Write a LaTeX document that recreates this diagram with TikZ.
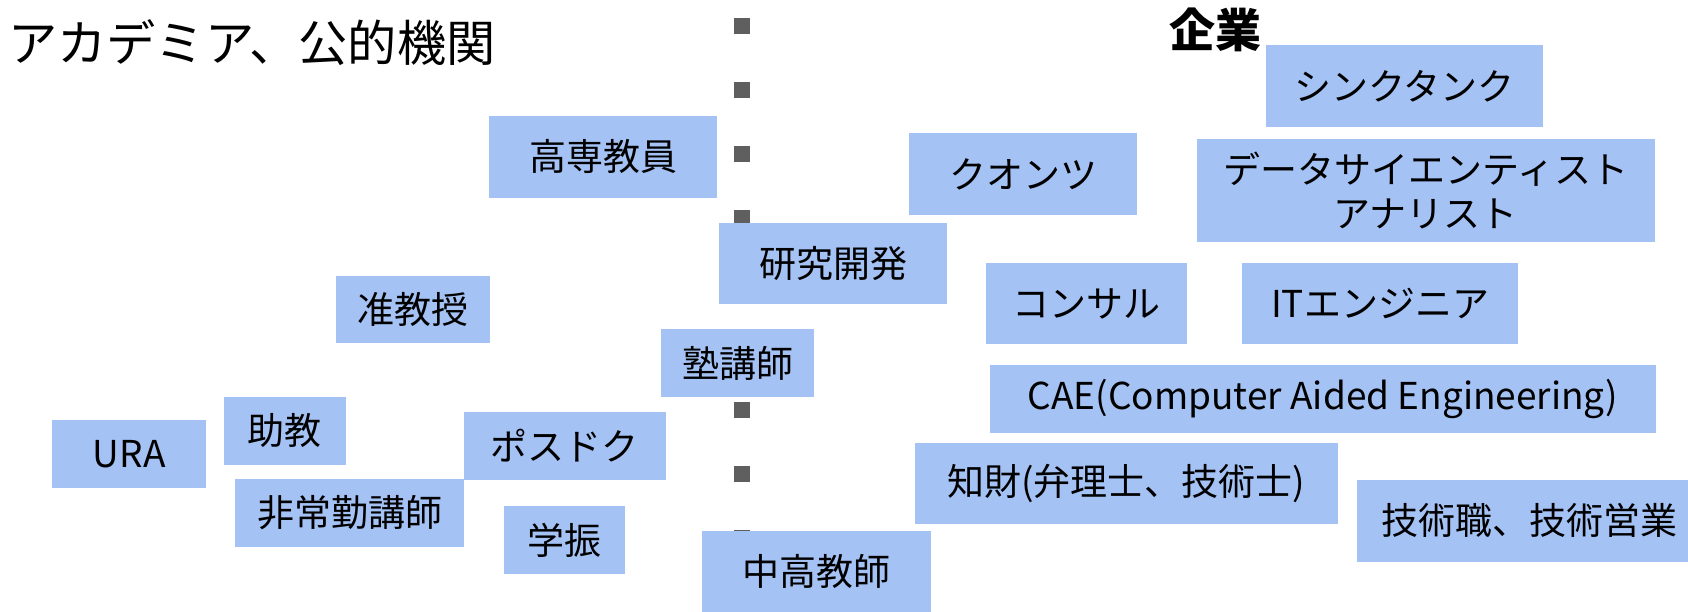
\documentclass[tikz,border=0pt]{standalone}
\usepackage{fontspec}
\setmainfont{Noto Sans CJK JP}
\definecolor{boxblue}{HTML}{A4C2F4}
\definecolor{dashgray}{HTML}{5F5F5F}
\tikzset{
  bx/.style={fill=boxblue, inner sep=0pt, align=center, text=black,
    font=\fontsize{18.5pt}{22pt}\selectfont},
  heading/.style={inner sep=0pt, text=black},
  divider/.style={draw=dashgray, line width=8pt, line cap=butt, dash pattern=on 8pt off 24pt}
}
\begin{document}
\begin{tikzpicture}[x=0.5pt,y=-0.5pt]
\useasboundingbox (0,0) rectangle (1688,611);
\clip (0,0) rectangle (1688,611);
% divider
\coordinate (dtop) at (741.6,18);
\coordinate (dbot) at (741.6,546);
\draw[divider] (dtop) -- (dbot);
% headings
\node[heading, anchor=west, font=\fontsize{24.6pt}{28pt}\selectfont] (acad) at (8,43) {アカデミア、公的機関};
\node[heading, font=\fontsize{23pt}{27pt}\selectfont\bfseries] (corp) at (1215,30) {企業};
% academia side
\node[bx, minimum width=114.35pt, minimum height=40.85pt] (kosen) at (603,156.9) {高専教員};
\node[bx, minimum width=114.15pt, minimum height=40.8pt] (kenkyu) at (833.2,263.5) {研究開発};
\node[bx, minimum width=77pt, minimum height=33.65pt] (junkyoju) at (412.8,309.7) {准教授};
\node[bx, minimum width=76.65pt, minimum height=33.7pt] (juku) at (737.7,363) {塾講師};
\node[bx, minimum width=76.95pt, minimum height=33.85pt] (ura) at (129.2,453.9) {URA};
\node[bx, minimum width=60.8pt, minimum height=33.85pt] (jokyo) at (284.7,430.9) {助教};
\node[bx, minimum width=100.9pt, minimum height=33.7pt] (posdoc) at (564.9,446) {ポスドク};
\node[bx, minimum width=114.4pt, minimum height=33.85pt] (hijokin) at (349.6,512.9) {非常勤講師};
\node[bx, minimum width=60.8pt, minimum height=33.85pt] (gakushin) at (564.6,539.9) {学振};
\node[bx, minimum width=114.45pt, minimum height=40.85pt] (chuko) at (816.3,571.9) {中高教師};
% corporate side
\node[bx, minimum width=138.3pt, minimum height=40.85pt] (think) at (1404.3,85.9) {シンクタンク};
\node[bx, minimum width=114.15pt, minimum height=40.85pt] (quants) at (1023.2,173.9) {クオンツ};
\node[bx, minimum width=228.75pt, minimum height=51.35pt] (ds) at (1425.8,190.4) {データサイエンティスト\\アナリスト};
\node[bx, minimum width=100.7pt, minimum height=40.65pt] (consul) at (1086.7,303.7) {コンサル};
\node[bx, minimum width=138.35pt, minimum height=40.65pt] (it) at (1380,303.7) {ITエンジニア};
\node[bx, minimum width=332.85pt, minimum height=33.85pt] (cae) at (1322.8,398.9) {CAE(Computer Aided Engineering)};
\node[bx, minimum width=211.25pt, minimum height=40.5pt] (chizai) at (1126.3,483.8) {知財(弁理士、技術士)};
\node[bx, minimum width=172pt, minimum height=40.85pt] (gijutsu) at (1529,520.9) {技術職、技術営業};
\end{tikzpicture}
\end{document}
